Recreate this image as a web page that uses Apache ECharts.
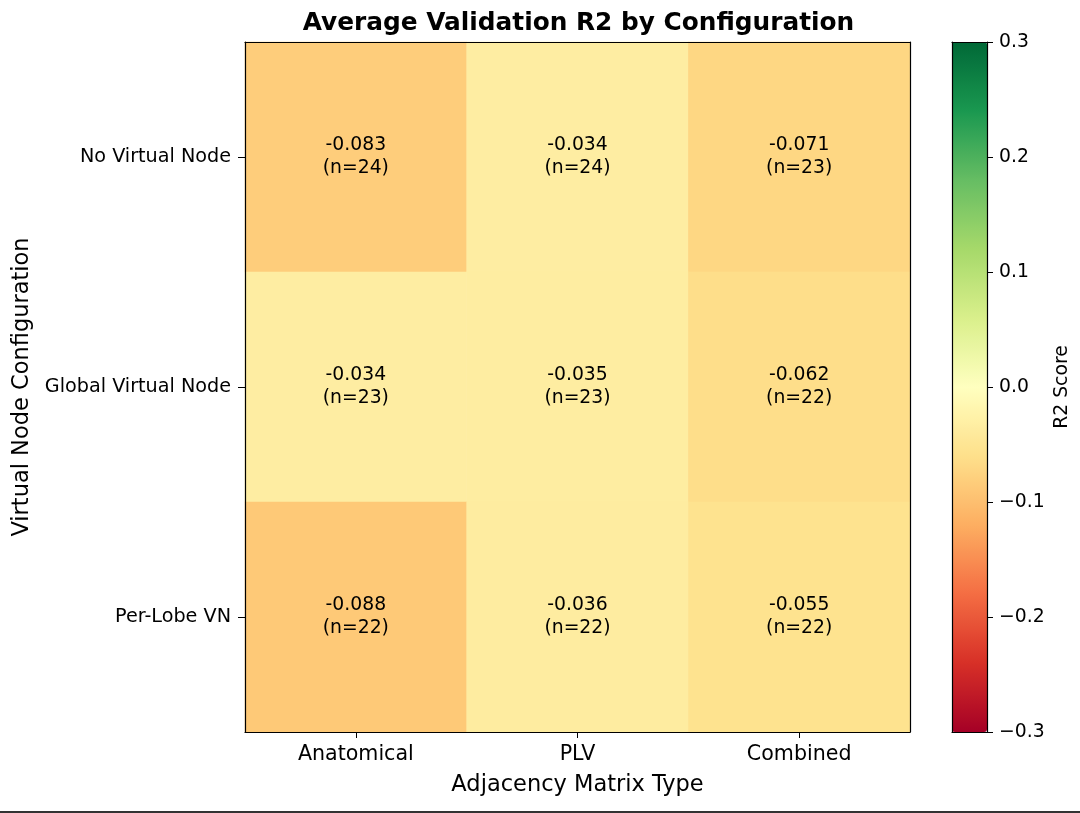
<!DOCTYPE html>
<html>
<head>
<meta charset="utf-8">
<script src="https://cdn.jsdelivr.net/npm/echarts@6/dist/echarts.min.js"></script>
<style>
html,body{margin:0;padding:0;background:#fff;}
#chart{width:1080px;height:813px;}
</style>
</head>
<body>
<div id="chart"></div>
<script>
const xCategories = ['Anatomical', 'PLV', 'Combined'];
const yCategories = ['No Virtual Node', 'Global Virtual Node', 'Per-Lobe VN'];
// rows follow yCategories, columns follow xCategories
const r2Values = [
  [-0.083, -0.034, -0.071],
  [-0.034, -0.035, -0.062],
  [-0.088, -0.036, -0.055]
];
const nCounts = [
  [24, 24, 23],
  [23, 23, 22],
  [22, 22, 22]
];
const colorbarTicks = [-0.3, -0.2, -0.1, 0.0, 0.1, 0.2, 0.3];
const rdYlGn = ['#a50026','#d73027','#f46d43','#fdae61','#fee08b','#ffffbf','#d9ef8b','#a6d96a','#66bd63','#1a9850','#006837'];

const FONT = 'DejaVu Sans';
const data = [];
r2Values.forEach((row, yi) => row.forEach((v, xi) => data.push([xi, yi, v, nCounts[yi][xi]])));

const chart = echarts.init(document.getElementById('chart'), null, {renderer: 'canvas'});
const G = {left: 245, top: 42, width: 665, height: 690};
const CB = {left: 952, top: 42, width: 35, height: 690};
const axisLineStyle = {color: '#000', width: 1.2};
const frameLine = {show: true, onZero: false, lineStyle: axisLineStyle};

chart.setOption({
  backgroundColor: '#fff',
  animation: false,
  textStyle: {fontFamily: FONT},
  title: {
    text: 'Average Validation R2 by Configuration',
    left: G.left + G.width / 2 - 4, top: 6, textAlign: 'center',
    textStyle: {fontFamily: FONT, fontSize: 24.8, fontWeight: 'bold', color: '#000'}
  },
  grid: [
    {left: G.left, top: G.top, width: G.width, height: G.height},
    {left: CB.left, top: CB.top, width: CB.width, height: CB.height}
  ],
  xAxis: [
    {type: 'category', gridIndex: 0, data: xCategories, position: 'bottom', z: 10,
     name: 'Adjacency Matrix Type', nameLocation: 'middle', nameGap: 42,
     nameTextStyle: {fontFamily: FONT, fontSize: 22.5, color: '#000'},
     axisLine: frameLine,
     axisTick: {show: true, alignWithLabel: true, length: 6, lineStyle: {color: '#000'}},
     axisLabel: {fontFamily: FONT, fontSize: 20.6, color: '#000', margin: 12},
     splitLine: {show: false}},
    {type: 'category', gridIndex: 0, data: xCategories, position: 'top', z: 10,
     axisLine: frameLine, axisTick: {show: false}, axisLabel: {show: false}},
    {type: 'value', gridIndex: 1, min: 0, max: 1, position: 'bottom', z: 10,
     axisLine: frameLine, axisTick: {show: false}, axisLabel: {show: false}, splitLine: {show: false}},
    {type: 'value', gridIndex: 1, min: 0, max: 1, position: 'top', z: 10,
     axisLine: frameLine, axisTick: {show: false}, axisLabel: {show: false}, splitLine: {show: false}}
  ],
  yAxis: [
    {type: 'category', gridIndex: 0, data: yCategories, inverse: true, position: 'left', z: 10,
     name: 'Virtual Node Configuration', nameLocation: 'middle', nameGap: 211, nameRotate: 90,
     nameTextStyle: {fontFamily: FONT, fontSize: 22.5, color: '#000'},
     axisLine: frameLine,
     axisTick: {show: true, alignWithLabel: true, length: 7, lineStyle: {color: '#000'}},
     axisLabel: {fontFamily: FONT, fontSize: 19.2, color: '#000', margin: 14},
     splitLine: {show: false}},
    {type: 'category', gridIndex: 0, data: yCategories, inverse: true, position: 'right', z: 10,
     axisLine: frameLine, axisTick: {show: false}, axisLabel: {show: false}},
    {type: 'value', gridIndex: 1, min: colorbarTicks[0], max: colorbarTicks[colorbarTicks.length - 1], interval: 0.1,
     position: 'right', z: 10,
     name: 'R2 Score', nameLocation: 'middle', nameGap: 66, nameRotate: 90,
     nameTextStyle: {fontFamily: FONT, fontSize: 18.8, color: '#000'},
     axisLine: frameLine,
     axisTick: {show: true, length: 6, lineStyle: {color: '#000'}},
     axisLabel: {fontFamily: FONT, fontSize: 18.8, color: '#000', margin: 12,
       formatter: v => { const s = (Math.round(v * 10) / 10).toFixed(1); return s.replace('-', '\u2212'); }},
     splitLine: {show: false}},
    {type: 'value', gridIndex: 1, min: -0.3, max: 0.3, position: 'left', z: 10,
     axisLine: frameLine, axisTick: {show: false}, axisLabel: {show: false}, splitLine: {show: false}}
  ],
  visualMap: {
    type: 'continuous', seriesIndex: 0, dimension: 2,
    min: colorbarTicks[0], max: colorbarTicks[colorbarTicks.length - 1],
    calculable: false, hoverLink: false,
    left: CB.left, top: CB.top, itemWidth: CB.width, itemHeight: CB.height,
    padding: 0, text: null, showLabel: false, orient: 'vertical',
    inRange: {color: rdYlGn}
  },
  series: [{
    type: 'heatmap', xAxisIndex: 0, yAxisIndex: 0,
    data: data,
    label: {
      show: true, fontFamily: FONT, fontSize: 18.8, color: '#000', lineHeight: 23,
      formatter: p => p.value[2].toFixed(3) + '\n(n=' + p.value[3] + ')'
    },
    emphasis: {disabled: true}
  }],
  graphic: [{
    type: 'line', z: 100,
    shape: {x1: 0, y1: 812, x2: 1080, y2: 812},
    style: {stroke: '#333', lineWidth: 2}
  }]
});
</script>
</body>
</html>
